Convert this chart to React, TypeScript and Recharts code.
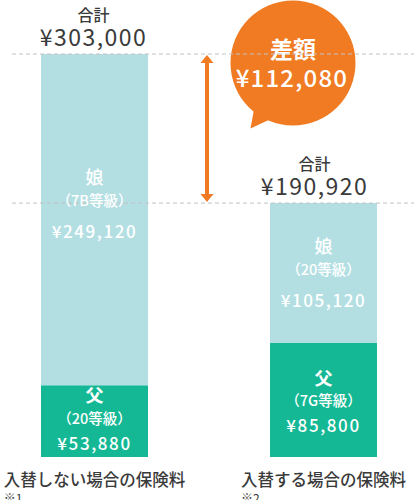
import React from "react";
import {
  BarChart,
  Bar,
  XAxis,
  YAxis,
  ReferenceLine,
  ReferenceArea,
  Label,
  LabelList,
} from "recharts";

// ---- data ----
const categories = ["入替しない場合の保険料", "入替する場合の保険料"];
const notes = ["※1", "※2"];
const fatherPremium = [53880, 85800];
const daughterPremium = [249120, 105120];
const fatherGrades = ["20等級", "7G等級"];
const daughterGrades = ["7B等級", "20等級"];
const fatherName = "父";
const daughterName = "娘";
const totalTitle = "合計";
const diffTitle = "差額";

const data = categories.map((name, i) => ({
  name,
  father: fatherPremium[i],
  daughter: daughterPremium[i],
  total: fatherPremium[i] + daughterPremium[i],
}));
const totals = data.map((d) => d.total);
const difference = totals[0] - totals[1];

// ---- style ----
const GREEN = "#14b894";
const LIGHT = "#b3dfe3";
const ORANGE = "#f07b22";
const TEXT = "#3a3a3a";
const DASH = "#c2c2c2";
const FONT = "'Noto Sans CJK JP', 'Noto Sans', sans-serif";

const yen = (v: number) => "¥" + v.toLocaleString("en-US");

const fatherShift = [-4, 0];
const daughterShift = [-16, 0];
const totalDx = [-1, -9];

const renderSegment =
  (name: string, grades: string[], shifts: number[], bold: number, offs: number[]) =>
  (props: any) => {
    const { x, y, width, height, index, value } = props;
    const cx = Number(x) + Number(width) / 2;
    const cy = Number(y) + Number(height) / 2 + shifts[index];
    return (
      <g fontFamily={FONT} fill="#ffffff" textAnchor="middle">
        <text x={cx} y={cy + offs[0]} fontSize={18} fontWeight={bold} dominantBaseline="central">
          {name}
        </text>
        <text x={cx} y={cy + offs[1]} fontSize={14.5} fontWeight={500} dominantBaseline="central">
          {"（" + grades[index] + "）"}
        </text>
        <text
          x={cx}
          y={cy + offs[2]}
          fontSize={17}
          fontWeight={500}
          letterSpacing={1.6}
          dominantBaseline="central"
        >
          {yen(Number(value))}
        </text>
      </g>
    );
  };

const renderFather = renderSegment(fatherName, fatherGrades, fatherShift, 700, [-23, 0, 25]);
const renderDaughter = renderSegment(daughterName, daughterGrades, daughterShift, 500, [-28, -4, 27]);

const renderTotal = (props: any) => {
  const { x, y, width, index, value } = props;
  const cx = Number(x) + Number(width) / 2 + totalDx[index];
  const top = Number(y);
  return (
    <g fontFamily={FONT} fill={TEXT} textAnchor="middle">
      <text x={cx} y={top - 40} fontSize={16} fontWeight={500} dominantBaseline="central">
        {totalTitle}
      </text>
      <text
        x={cx}
        y={top - 18}
        fontSize={23}
        fontWeight={400}
        letterSpacing={1.5}
        dominantBaseline="central"
      >
        {yen(Number(value))}
      </text>
    </g>
  );
};

const renderDiff = (props: any) => {
  const vb = props.viewBox || {};
  const top = Number(vb.y);
  const bottom = Number(vb.y) + Number(vb.height);
  const ax = 207;
  const bx = 293;
  const by = 63;
  return (
    <g>
      <line x1={ax} x2={ax} y1={top + 6} y2={bottom - 6} stroke={ORANGE} strokeWidth={4} />
      <polygon points={`${ax},${top + 1} ${ax - 6.5},${top + 9} ${ax + 6.5},${top + 9}`} fill={ORANGE} />
      <polygon
        points={`${ax},${bottom - 1} ${ax - 6.5},${bottom - 9} ${ax + 6.5},${bottom - 9}`}
        fill={ORANGE}
      />
      <circle cx={bx} cy={by} r={62.5} fill={ORANGE} />
      <polygon points={`255,104 273,118 250.5,128.5`} fill={ORANGE} />
      <g fontFamily={FONT} fill="#ffffff" textAnchor="middle">
        <text x={bx} y={48} fontSize={23} fontWeight={700} dominantBaseline="central">
          {diffTitle}
        </text>
        <text
          x={bx - 1}
          y={76}
          fontSize={24}
          fontWeight={500}
          letterSpacing={1.2}
          dominantBaseline="central"
        >
          {yen(difference)}
        </text>
      </g>
    </g>
  );
};

const CategoryTick = (props: any) => {
  const { x, y, payload } = props;
  const label = String(payload.value);
  const i = categories.indexOf(label);
  const fs = 16.5;
  const startX = Number(x) - (label.length * fs) / 2;
  return (
    <g fontFamily={FONT} fill={TEXT}>
      <text x={startX} y={Number(y) + 22} fontSize={fs} fontWeight={500} dominantBaseline="central">
        {label}
      </text>
      <text x={startX} y={Number(y) + 40} fontSize={12} dominantBaseline="central">
        {notes[i]}
      </text>
    </g>
  );
};

export default function App() {
  return (
    <div style={{ position: "absolute", left: 0, top: 0, width: 414, height: 500 }}>
      <BarChart
        width={414}
        height={500}
        data={data}
        margin={{ top: 54, right: 0, bottom: 13, left: 12 }}
        barSize={107}
      >
        <XAxis
          dataKey="name"
          axisLine={false}
          tickLine={false}
          tickSize={0}
          tickMargin={0}
          height={30}
          interval={0}
          padding={{ left: -32, right: -24 }}
          tick={<CategoryTick />}
        />
        <YAxis hide domain={[0, Math.max(...totals)]} allowDataOverflow />
        <Bar dataKey="father" stackId="s" fill={GREEN} isAnimationActive={false}>
          <LabelList dataKey="father" content={renderFather} />
        </Bar>
        <Bar dataKey="daughter" stackId="s" fill={LIGHT} isAnimationActive={false}>
          <LabelList dataKey="daughter" content={renderDaughter} />
          <LabelList dataKey="total" content={renderTotal} />
        </Bar>
        <ReferenceLine y={totals[0]} stroke={DASH} strokeDasharray="4 3" />
        <ReferenceLine y={totals[1]} stroke={DASH} strokeDasharray="4 3" />
        <ReferenceArea
          y1={totals[1]}
          y2={totals[0]}
          fill="none"
          stroke="none"
          ifOverflow="visible"
        >
          <Label content={renderDiff} />
        </ReferenceArea>
      </BarChart>
    </div>
  );
}
